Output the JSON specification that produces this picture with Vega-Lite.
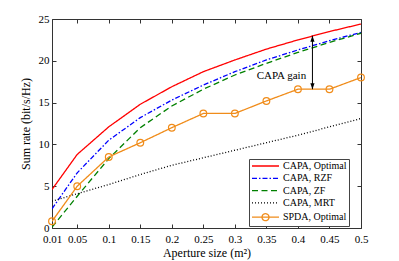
{
  "$schema": "https://vega.github.io/schema/vega-lite/v6.json",
  "width": 309,
  "height": 209,
  "autosize": {"type": "none"},
  "padding": {"left": 52, "top": 19, "right": 38, "bottom": 33},
  "config": {
    "font": "Liberation Serif, Times New Roman, serif",
    "view": {"stroke": null},
    "axis": {
      "grid": false,
      "domainColor": "#333333",
      "tickColor": "#333333",
      "tickSize": -4,
      "labelFont": "Liberation Serif, Times New Roman, serif",
      "titleFont": "Liberation Serif, Times New Roman, serif",
      "labelFontSize": 11,
      "titleFontSize": 12,
      "labelColor": "#000000",
      "titleColor": "#000000",
      "titleFontWeight": "normal"
    }
  },
  "datasets": {
    "curves": [
      {"x": 0.01, "y": 4.6, "s": "CAPA, Optimal"},
      {"x": 0.05, "y": 8.8, "s": "CAPA, Optimal"},
      {"x": 0.1, "y": 12.1, "s": "CAPA, Optimal"},
      {"x": 0.15, "y": 14.8, "s": "CAPA, Optimal"},
      {"x": 0.2, "y": 16.9, "s": "CAPA, Optimal"},
      {"x": 0.25, "y": 18.7, "s": "CAPA, Optimal"},
      {"x": 0.3, "y": 20.1, "s": "CAPA, Optimal"},
      {"x": 0.35, "y": 21.4, "s": "CAPA, Optimal"},
      {"x": 0.4, "y": 22.5, "s": "CAPA, Optimal"},
      {"x": 0.45, "y": 23.5, "s": "CAPA, Optimal"},
      {"x": 0.5, "y": 24.4, "s": "CAPA, Optimal"},
      {"x": 0.01, "y": 2.3, "s": "CAPA, RZF"},
      {"x": 0.05, "y": 6.6, "s": "CAPA, RZF"},
      {"x": 0.1, "y": 10.5, "s": "CAPA, RZF"},
      {"x": 0.15, "y": 13.2, "s": "CAPA, RZF"},
      {"x": 0.2, "y": 15.3, "s": "CAPA, RZF"},
      {"x": 0.25, "y": 17.1, "s": "CAPA, RZF"},
      {"x": 0.3, "y": 18.7, "s": "CAPA, RZF"},
      {"x": 0.35, "y": 20.1, "s": "CAPA, RZF"},
      {"x": 0.4, "y": 21.3, "s": "CAPA, RZF"},
      {"x": 0.45, "y": 22.4, "s": "CAPA, RZF"},
      {"x": 0.5, "y": 23.4, "s": "CAPA, RZF"},
      {"x": 0.01, "y": 0.1, "s": "CAPA, ZF"},
      {"x": 0.05, "y": 3.8, "s": "CAPA, ZF"},
      {"x": 0.1, "y": 8.3, "s": "CAPA, ZF"},
      {"x": 0.15, "y": 12.0, "s": "CAPA, ZF"},
      {"x": 0.2, "y": 14.6, "s": "CAPA, ZF"},
      {"x": 0.25, "y": 16.6, "s": "CAPA, ZF"},
      {"x": 0.3, "y": 18.3, "s": "CAPA, ZF"},
      {"x": 0.35, "y": 19.7, "s": "CAPA, ZF"},
      {"x": 0.4, "y": 21.0, "s": "CAPA, ZF"},
      {"x": 0.45, "y": 22.2, "s": "CAPA, ZF"},
      {"x": 0.5, "y": 23.3, "s": "CAPA, ZF"},
      {"x": 0.01, "y": 3.2, "s": "CAPA, MRT"},
      {"x": 0.05, "y": 4.1, "s": "CAPA, MRT"},
      {"x": 0.1, "y": 5.2, "s": "CAPA, MRT"},
      {"x": 0.15, "y": 6.4, "s": "CAPA, MRT"},
      {"x": 0.2, "y": 7.5, "s": "CAPA, MRT"},
      {"x": 0.25, "y": 8.4, "s": "CAPA, MRT"},
      {"x": 0.3, "y": 9.3, "s": "CAPA, MRT"},
      {"x": 0.35, "y": 10.2, "s": "CAPA, MRT"},
      {"x": 0.4, "y": 11.1, "s": "CAPA, MRT"},
      {"x": 0.45, "y": 12.1, "s": "CAPA, MRT"},
      {"x": 0.5, "y": 13.1, "s": "CAPA, MRT"},
      {"x": 0.01, "y": 0.8, "s": "SPDA, Optimal"},
      {"x": 0.05, "y": 5.0, "s": "SPDA, Optimal"},
      {"x": 0.1, "y": 8.5, "s": "SPDA, Optimal"},
      {"x": 0.15, "y": 10.2, "s": "SPDA, Optimal"},
      {"x": 0.2, "y": 12.0, "s": "SPDA, Optimal"},
      {"x": 0.25, "y": 13.7, "s": "SPDA, Optimal"},
      {"x": 0.3, "y": 13.7, "s": "SPDA, Optimal"},
      {"x": 0.35, "y": 15.2, "s": "SPDA, Optimal"},
      {"x": 0.4, "y": 16.6, "s": "SPDA, Optimal"},
      {"x": 0.45, "y": 16.6, "s": "SPDA, Optimal"},
      {"x": 0.5, "y": 18.0, "s": "SPDA, Optimal"}
    ],
    "arrow": [{"x": 0.423, "y1": 16.6, "y2": 23.0}],
    "label": [{"x": 0.413, "y": 18.2, "t": "CAPA gain"}]
  },
  "layer": [
    {
      "data": {"name": "curves"},
      "mark": {"type": "line", "strokeWidth": 1.3, "clip": true},
      "encoding": {
        "x": {
          "field": "x", "type": "quantitative",
          "scale": {"domain": [0.01, 0.5], "nice": false, "zero": false},
          "axis": {
            "title": "Aperture size (m²)",
            "values": [0.01, 0.05, 0.1, 0.15, 0.2, 0.25, 0.3, 0.35, 0.4, 0.45, 0.5],
            "format": "~g",
            "labelPadding": 9,
            "titlePadding": 3,
            "labelFlush": false
          }
        },
        "y": {
          "field": "y", "type": "quantitative",
          "scale": {"domain": [0, 25], "nice": false},
          "axis": {
            "title": "Sum rate (bit/s/Hz)",
            "values": [0, 5, 10, 15, 20, 25],
            "labelPadding": 7,
            "titlePadding": 6
          }
        },
        "color": {
          "field": "s", "type": "nominal",
          "scale": {
            "domain": ["CAPA, Optimal", "CAPA, RZF", "CAPA, ZF", "CAPA, MRT", "SPDA, Optimal"],
            "range": ["#ff0000", "#0000ff", "#008000", "#000000", "#f08c1a"]
          },
          "legend": {
            "title": null,
            "orient": "none",
            "legendX": 197,
            "legendY": 140,
            "fillColor": "#ffffff",
            "strokeColor": "#444444",
            "padding": 2,
            "labelFont": "Liberation Serif, Times New Roman, serif",
            "labelFontSize": 10,
            "labelColor": "#000000",
            "labelOffset": 22,
            "rowPadding": 2.3,
            "symbolType": "M -1 0 L 5.75 0",
            "symbolSize": 64,
            "symbolStrokeWidth": 1.3,
            "symbolFillColor": "transparent",
            "encode": {
              "symbols": {
                "update": {
                  "shape": {"signal": "datum.value === 'SPDA, Optimal' ? 'M -1 0 L 5.75 0 M 3.25 0 A 0.875 0.875 0 1 1 1.5 0 A 0.875 0.875 0 1 1 3.25 0' : 'M -1 0 L 5.75 0'"},
                  "fill": {"value": "transparent"}
                }
              }
            }
          }
        },
        "strokeDash": {
          "field": "s", "type": "nominal",
          "scale": {
            "domain": ["CAPA, Optimal", "CAPA, RZF", "CAPA, ZF", "CAPA, MRT", "SPDA, Optimal"],
            "range": [[1, 0], [5, 2, 1.5, 2], [6, 3.5], [1, 2], [1, 0]]
          },
          "legend": null
        }
      }
    },
    {
      "data": {"name": "curves"},
      "transform": [{"filter": "datum.s === 'SPDA, Optimal'"}],
      "mark": {"type": "point", "shape": "circle", "filled": false, "size": 45, "strokeWidth": 1.2, "color": "#f08c1a", "opacity": 1},
      "encoding": {
        "x": {"field": "x", "type": "quantitative", "axis": null},
        "y": {"field": "y", "type": "quantitative", "axis": null}
      }
    },
    {
      "data": {"name": "arrow"},
      "mark": {"type": "rule", "color": "#000000", "strokeWidth": 1},
      "encoding": {
        "x": {"field": "x", "type": "quantitative", "axis": null},
        "y": {"field": "y1", "type": "quantitative", "axis": null},
        "y2": {"field": "y2"}
      }
    },
    {
      "data": {"name": "arrow"},
      "mark": {"type": "point", "shape": "M 0 0 L -0.7 2 L 0.7 2 Z", "filled": true, "size": 36, "color": "#000000", "opacity": 1},
      "encoding": {
        "x": {"field": "x", "type": "quantitative", "axis": null},
        "y": {"field": "y2", "type": "quantitative", "axis": null}
      }
    },
    {
      "data": {"name": "arrow"},
      "mark": {"type": "point", "shape": "M 0 0 L -0.7 -2 L 0.7 -2 Z", "filled": true, "size": 36, "color": "#000000", "opacity": 1},
      "encoding": {
        "x": {"field": "x", "type": "quantitative", "axis": null},
        "y": {"field": "y1", "type": "quantitative", "axis": null}
      }
    },
    {
      "data": {"name": "label"},
      "mark": {"type": "text", "align": "right", "baseline": "middle", "font": "Liberation Serif, Times New Roman, serif", "fontSize": 11, "color": "#000000"},
      "encoding": {
        "x": {"field": "x", "type": "quantitative", "axis": null},
        "y": {"field": "y", "type": "quantitative", "axis": null},
        "text": {"field": "t"}
      }
    },
    {
      "data": {"values": [{"x": 0.01, "y": 0}]},
      "mark": {"type": "point", "opacity": 0},
      "encoding": {
        "x": {
          "field": "x", "type": "quantitative",
          "scale": {"domain": [0.01, 0.5], "nice": false, "zero": false},
          "axis": {"orient": "top", "title": null, "labels": false,
                   "values": [0.01, 0.05, 0.1, 0.15, 0.2, 0.25, 0.3, 0.35, 0.4, 0.45, 0.5]}
        },
        "y": {
          "field": "y", "type": "quantitative",
          "scale": {"domain": [0, 25], "nice": false},
          "axis": {"orient": "right", "title": null, "labels": false, "values": [0, 5, 10, 15, 20, 25]}
        }
      }
    }
  ],
  "resolve": {"axis": {"x": "independent", "y": "independent"}}
}
